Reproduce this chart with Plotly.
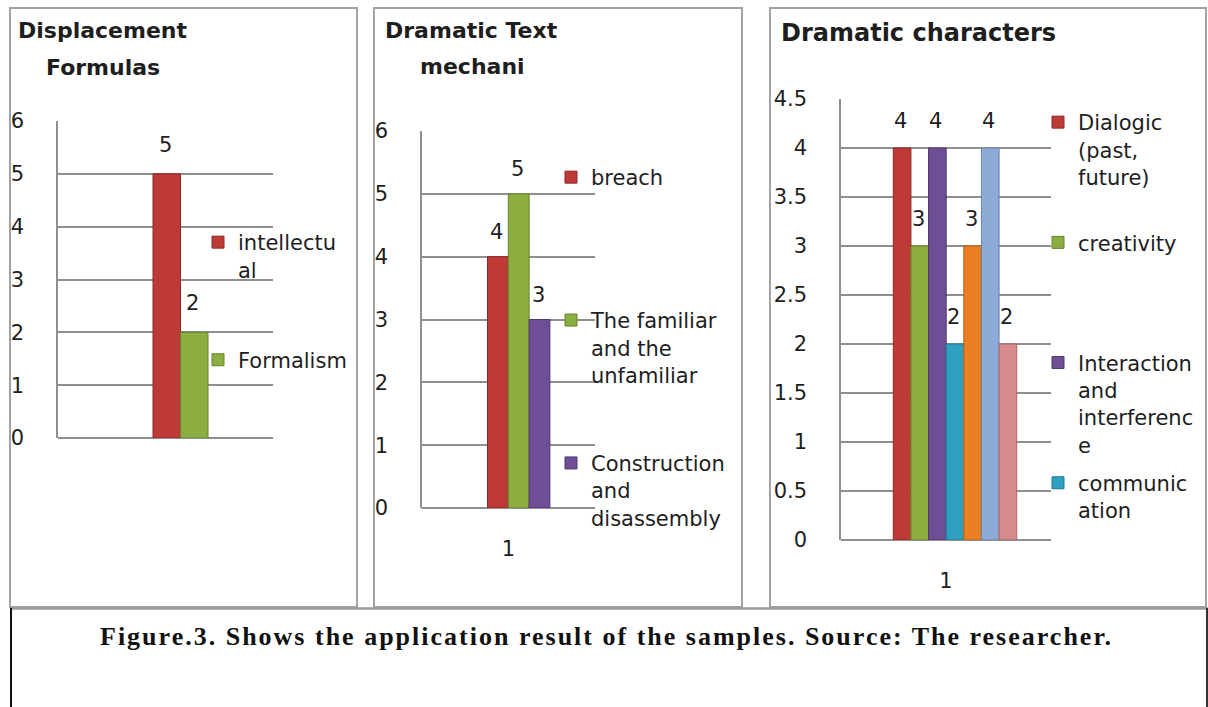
import plotly.graph_objects as go

W, H = 1208, 707

# ---------------- data ----------------
category = [1]
category_label = ["1"]

p1_title = ["Displacement", "Formulas"]
p1_names = ["intellectu<br>al", "Formalism"]
p1_values = [5, 2]

p2_title = ["Dramatic Text", "mechani"]
p2_names = ["breach", "The familiar<br>and the<br>unfamiliar", "Construction<br>and<br>disassembly"]
p2_values = [4, 5, 3]

p3_title = ["Dramatic characters"]
p3_names = ["Dialogic<br>(past,<br>future)", "creativity",
            "Interaction<br>and<br>interferenc<br>e", "communic<br>ation",
            "Series 5", "Series 6", "Series 7"]
p3_values = [4, 3, 4, 2, 3, 4, 2]
p3_legend_count = 4

caption = "Figure.3. Shows the application result of the samples. Source: The researcher."

# ---------------- style ----------------
colors = ["#BE3A36", "#8CAE40", "#6E4F96", "#2EA0C0", "#EB7F22", "#8EAAD6", "#D68A8A"]
edges = ["#8E2826", "#66822C", "#4F386E", "#1F7A93", "#B65F15", "#6882AE", "#A96767"]
GRID = "#8f8f8f"
TXT = "#1e1e1e"
FONT = "DejaVu Sans"


def fx(px):
    return px / W


def fy(py):
    return 1 - py / H


def pad(name, n):
    lines = name.count("<br>") + 1
    return name + "<br>\u00a0" * (n - lines)


fig = go.Figure()

panels = [
    dict(names=p1_names, values=p1_values, ax="", xpx=(58, 273), ypx=(121, 438), rng=[0, 6], dtick=1,
         start_px=153, bw_px=27.5, showx=False, leg="legend", nshow=2, padn=2,
         legx=198, legy=222, gap=60, lab_shift=29),
    dict(names=p2_names, values=p2_values, ax="2", xpx=(422, 595), ypx=(131, 508), rng=[0, 6], dtick=1,
         start_px=487.5, bw_px=20.8, showx=True, leg="legend2", nshow=3, padn=3,
         legx=551, legy=157, gap=58, lab_shift=25),
    dict(names=p3_names, values=p3_values, ax="3", xpx=(841, 1051), ypx=(99, 540), rng=[0, 4.5], dtick=0.5,
         start_px=893.3, bw_px=17.63, showx=True, leg="legend3", nshow=p3_legend_count, padn=4,
         legx=1038, legy=102, gap=8, lab_shift=27),
]

annotations = []
layout_axes = {}
legends = {}

for p in panels:
    x0, x1 = p["xpx"]
    y0, y1 = p["ypx"]
    scale = (x1 - x0)  # px per data unit (range width 1)
    centre = (x0 + x1) / 2
    w = p["bw_px"] / scale
    start = (p["start_px"] - centre) / scale
    for i, (n, v) in enumerate(zip(p["names"], p["values"])):
        shown = i < p["nshow"]
        fig.add_trace(go.Bar(
            x=category, y=[v], width=w, offset=start + i * w,
            name=pad(n, p["padn"]) if shown else n,
            marker=dict(color=colors[i], line=dict(width=1, color=edges[i])),
            xaxis="x" + p["ax"], yaxis="y" + p["ax"],
            legend=p["leg"], legendgroup=f"{p['leg']}_{i}", showlegend=shown,
            hoverinfo="skip",
        ))
        annotations.append(dict(
            x=category[0] + start + (i + 0.5) * w, y=v,
            xref="x" + p["ax"], yref="y" + p["ax"],
            text=str(v), showarrow=False, yshift=p["lab_shift"], xshift=-1.5,
            font=dict(family=FONT, size=21, color=TXT),
        ))
    layout_axes["xaxis" + p["ax"]] = dict(
        domain=[fx(x0), fx(x1)], range=[0.5, 1.5], anchor="y" + p["ax"],
        tickvals=category, ticktext=category_label, showticklabels=p["showx"],
        showgrid=False, zeroline=False, showline=False, ticks="",
        ticklabelstandoff=26, tickfont=dict(family=FONT, size=21, color=TXT),
        fixedrange=True, automargin=False,
    )
    layout_axes["yaxis" + p["ax"]] = dict(
        domain=[fy(y1), fy(y0)], range=p["rng"], dtick=p["dtick"], tick0=0,
        anchor="x" + p["ax"],
        showgrid=True, gridcolor=GRID, gridwidth=1.5,
        showline=True, linecolor=GRID, linewidth=1.5,
        zeroline=True, zerolinecolor=GRID, zerolinewidth=1.5,
        ticks="", ticklabelstandoff=28,
        tickfont=dict(family=FONT, size=21, color=TXT), fixedrange=True, automargin=False,
    )
    legends[p["leg"]] = dict(
        x=fx(p["legx"]), y=fy(p["legy"]), xanchor="left", yanchor="top",
        bgcolor="rgba(0,0,0,0)", borderwidth=0, valign="top",
        traceorder="grouped", tracegroupgap=p["gap"],
        font=dict(family=FONT, size=21, color=TXT),
    )

# titles
title_specs = [
    (p1_title[0], 103, 31, 22), (p1_title[1], 103, 67, 22),
    (p2_title[0], 471, 31, 22), (p2_title[1], 472, 66, 22),
    (p3_title[0], 918, 33, 24),
]
for t, cx, cy, sz in title_specs:
    annotations.append(dict(
        x=fx(cx), y=fy(cy), xref="paper", yref="paper", text=f"<b>{t}</b>",
        showarrow=False, xanchor="center", yanchor="middle",
        font=dict(family=FONT, size=sz, color=TXT),
    ))

annotations.append(dict(
    x=fx(606), y=fy(636), xref="paper", yref="paper",
    text=f"<span style=\"letter-spacing:2px\"><b>{caption}</b></span>",
    showarrow=False, xanchor="center", yanchor="middle",
    font=dict(family="Liberation Serif", size=26, color="#111"),
))

BORDER = "#a3a3a3"
shapes = []
for lx, rx in [(10, 357), (374, 742), (770, 1206)]:
    shapes.append(dict(type="rect", xref="paper", yref="paper",
                       x0=fx(lx), x1=fx(rx), y0=fy(607), y1=fy(8),
                       line=dict(color=BORDER, width=2), fillcolor="rgba(0,0,0,0)"))
shapes.append(dict(type="line", xref="paper", yref="paper", x0=fx(10), x1=fx(1208), y0=fy(608.5), y1=fy(608.5),
                   line=dict(color="#9a9a9a", width=2.5)))
shapes.append(dict(type="line", xref="paper", yref="paper", x0=fx(11), x1=fx(11), y0=fy(608), y1=fy(710),
                   line=dict(color="#111", width=2)))
shapes.append(dict(type="line", xref="paper", yref="paper", x0=fx(1207), x1=fx(1207), y0=fy(608), y1=fy(710),
                   line=dict(color="#333", width=2)))

fig.update_layout(
    width=W, height=H, margin=dict(l=0, r=0, t=0, b=0, autoexpand=False),
    paper_bgcolor="white", plot_bgcolor="white",
    barmode="overlay", showlegend=True,
    annotations=annotations, shapes=shapes,
    **layout_axes, **legends,
)

fig.write_html("out.html", config={"displayModeBar": False},
               post_script="document.body.style.margin='0';document.body.style.overflow='hidden';")
